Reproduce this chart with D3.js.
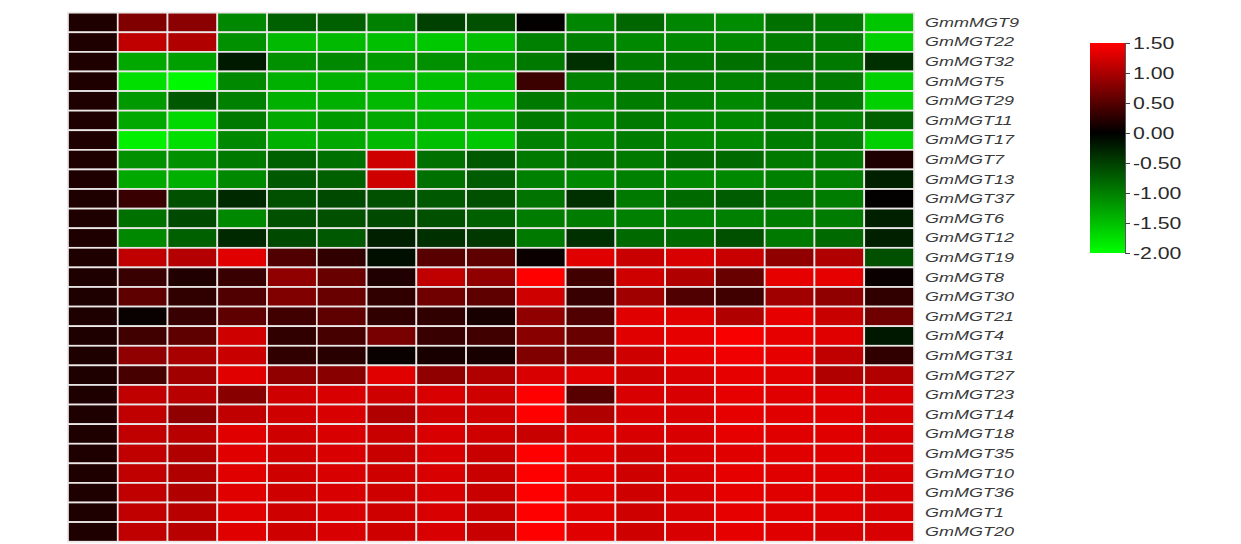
<!DOCTYPE html>
<html>
<head>
<meta charset="utf-8">
<script src="https://cdn.jsdelivr.net/npm/d3@7"></script>
<style>
  body { margin: 0; background: #fff; }
  svg { display: block; }
</style>
</head>
<body>
<script>
// row labels, top to bottom
var genes = ["GmmMGT9", "GmMGT22", "GmMGT32", "GmMGT5", "GmMGT29", "GmMGT11", "GmMGT17",
    "GmMGT7", "GmMGT13", "GmMGT37", "GmMGT6", "GmMGT12", "GmMGT19", "GmMGT8", "GmMGT30",
    "GmMGT21", "GmMGT4", "GmMGT31", "GmMGT27", "GmMGT23", "GmMGT14", "GmMGT18", "GmMGT35",
    "GmMGT10", "GmMGT36", "GmMGT1", "GmMGT20"];

// 17 samples (no names shown)
var samples = d3.range(17);

// expression values (one row per gene)
var values = [
    [0.18, 0.75, 0.82, -1.07, -0.75, -0.75, -1.0, -0.5, -0.63, 0.02, -1.05, -0.8, -1.05, -1.1, -0.88, -0.95, -1.55],
    [0.18, 1.13, 1.04, -1.13, -1.45, -1.45, -1.5, -1.57, -1.5, -1.0, -1.0, -1.07, -1.07, -1.07, -0.97, -0.97, -1.63],
    [0.18, -1.32, -1.25, -0.2, -1.13, -1.07, -1.2, -1.13, -1.2, -0.95, -0.38, -0.95, -0.95, -0.88, -0.88, -0.95, -0.38],
    [0.18, -1.75, -1.95, -1.07, -1.38, -1.38, -1.45, -1.5, -1.45, 0.35, -1.0, -0.95, -0.97, -1.0, -0.95, -0.95, -1.63],
    [0.18, -1.2, -0.7, -1.0, -1.38, -1.38, -1.45, -1.5, -1.5, -0.95, -1.07, -0.97, -1.0, -1.07, -0.95, -0.95, -1.63],
    [0.18, -1.32, -1.7, -0.95, -1.32, -1.2, -1.32, -1.38, -1.32, -0.95, -1.07, -0.95, -1.07, -1.07, -0.95, -1.0, -0.75],
    [0.18, -1.88, -1.75, -1.07, -1.38, -1.32, -1.45, -1.5, -1.57, -1.0, -1.07, -0.97, -1.07, -1.07, -0.97, -1.0, -1.63],
    [0.18, -1.13, -1.13, -0.95, -0.75, -0.88, 1.22, -0.88, -0.7, -0.95, -0.88, -0.95, -0.82, -0.82, -0.95, -0.95, 0.18],
    [0.18, -1.32, -1.38, -1.07, -0.7, -0.75, 1.22, -0.88, -0.72, -1.0, -1.07, -1.0, -1.07, -1.07, -1.0, -1.0, -0.25],
    [0.18, 0.33, -0.63, -0.32, -0.63, -0.57, -0.63, -0.7, -0.63, -0.9, -0.38, -0.95, -0.82, -0.72, -0.88, -0.97, 0.02],
    [0.18, -0.88, -0.57, -1.07, -0.63, -0.63, -0.57, -0.63, -0.75, -0.97, -0.97, -1.0, -1.0, -1.0, -0.97, -0.97, -0.25],
    [0.18, -1.07, -0.75, -0.32, -0.57, -0.7, -0.25, -0.38, -0.44, -0.95, -0.38, -0.82, -0.82, -0.63, -0.95, -0.82, -0.25],
    [0.18, 1.13, 1.06, 1.32, 0.47, 0.28, -0.12, 0.52, 0.56, 0.06, 1.32, 1.18, 1.27, 1.18, 0.85, 1.04, -0.63],
    [0.18, 0.33, 0.19, 0.33, 0.85, 0.61, 0.19, 1.13, 0.85, 1.5, 0.38, 1.22, 1.04, 0.61, 1.36, 1.36, 0.06],
    [0.18, 0.56, 0.28, 0.47, 0.75, 0.61, 0.28, 0.66, 0.56, 1.22, 0.33, 0.94, 0.47, 0.38, 0.94, 0.85, 0.28],
    [0.18, 0.05, 0.33, 0.56, 0.38, 0.56, 0.28, 0.28, 0.14, 0.85, 0.47, 1.32, 1.32, 1.04, 1.36, 1.18, 0.66],
    [0.18, 0.38, 0.56, 1.22, 0.28, 0.42, 0.71, 0.33, 0.38, 0.8, 0.61, 1.32, 1.36, 1.46, 1.36, 1.32, -0.19],
    [0.18, 0.85, 0.99, 1.18, 0.28, 0.24, 0.05, 0.14, 0.14, 0.75, 0.71, 1.22, 1.36, 1.41, 1.36, 1.13, 0.28],
    [0.18, 0.42, 0.94, 1.32, 0.85, 0.8, 1.32, 0.85, 1.04, 1.27, 1.32, 1.22, 1.27, 1.36, 1.32, 1.04, 1.04],
    [0.18, 1.13, 1.08, 0.8, 1.22, 1.27, 1.22, 1.27, 1.22, 1.5, 0.52, 1.27, 1.27, 1.36, 1.32, 1.32, 1.27],
    [0.18, 1.13, 0.85, 1.13, 1.22, 1.27, 1.04, 1.22, 1.22, 1.5, 1.04, 1.27, 1.27, 1.36, 1.32, 1.32, 1.27],
    [0.18, 1.13, 1.08, 1.32, 1.22, 1.27, 1.18, 1.27, 1.22, 1.18, 1.32, 1.27, 1.27, 1.36, 1.32, 1.32, 1.27],
    [0.18, 1.13, 1.04, 1.32, 1.22, 1.27, 1.18, 1.27, 1.18, 1.5, 1.32, 1.22, 1.27, 1.32, 1.32, 1.32, 1.27],
    [0.18, 1.13, 1.04, 1.32, 1.22, 1.27, 1.22, 1.27, 1.18, 1.5, 1.32, 1.22, 1.27, 1.36, 1.32, 1.32, 1.27],
    [0.18, 1.13, 1.04, 1.32, 1.22, 1.27, 1.22, 1.27, 1.18, 1.5, 1.32, 1.22, 1.27, 1.36, 1.32, 1.32, 1.27],
    [0.18, 1.13, 1.08, 1.32, 1.22, 1.27, 1.22, 1.27, 1.18, 1.5, 1.32, 1.22, 1.27, 1.36, 1.32, 1.32, 1.27],
    [0.18, 1.13, 1.08, 1.32, 1.22, 1.27, 1.22, 1.27, 1.18, 1.5, 1.32, 1.22, 1.27, 1.36, 1.32, 1.27, 1.27]
];

// colour key
var colorDomain = [-2, 0, 1.5];
var colorRange = ["#00ff00", "#000000", "#ff0000"];
var legendTicks = [1.5, 1.0, 0.5, 0.0, -0.5, -1.0, -1.5, -2.0];

window.onload = function() {
    var w = 1241, h = 544;

    var svg = d3.select("body")
        .append("svg")
        .attr("width", w)
        .attr("height", h);

    var color = d3.scaleLinear()
        .domain(colorDomain)
        .range(colorRange);

    // grid scales
    var x = d3.scaleBand().domain(samples).range([68, 914]);
    var y = d3.scaleBand().domain(genes).range([12.7, 541.7]);

    // flatten to cells
    var cells = [];
    genes.forEach(function(g, i) {
        samples.forEach(function(s, j) {
            cells.push({ gene: g, sample: s, v: values[i][j] });
        });
    });

    svg.append("g")
        .selectAll("rect")
        .data(cells)
        .enter()
        .append("rect")
        .attr("x", function(d) { return x(d.sample); })
        .attr("y", function(d) { return y(d.gene); })
        .attr("width", x.bandwidth())
        .attr("height", y.bandwidth())
        .style("fill", function(d) { return color(d.v); })
        .style("stroke", "#ece8e8")
        .style("stroke-width", 1.7);

    // gene names on the right (wide italic)
    svg.append("g")
        .selectAll("text")
        .data(genes)
        .enter()
        .append("text")
        .attr("transform", function(d) {
            return "translate(925," + (y(d) + y.bandwidth() / 2 + 4.4) + ") scale(1.44,1)";
        })
        .style("font-family", "'Liberation Sans', Arial, sans-serif")
        .style("font-style", "italic")
        .style("font-size", "12.5px")
        .style("fill", "#3a3a3a")
        .text(function(d) { return d; });

    // legend
    var legY = d3.scaleLinear().domain([-2, 1.5]).range([253, 43]);

    var grad = svg.append("defs")
        .append("linearGradient")
        .attr("id", "legGrad")
        .attr("x1", 0).attr("y1", 1)
        .attr("x2", 0).attr("y2", 0);

    grad.selectAll("stop")
        .data(colorDomain)
        .enter()
        .append("stop")
        .attr("offset", function(d) { return (d + 2) / 3.5; })
        .attr("stop-color", function(d) { return color(d); });

    svg.append("rect")
        .attr("x", 1090)
        .attr("y", legY(1.5))
        .attr("width", 35)
        .attr("height", legY(-2) - legY(1.5))
        .style("fill", "url(#legGrad)");

    var legAxis = svg.append("g")
        .attr("transform", "translate(1125,0)")
        .call(d3.axisRight(legY)
            .tickValues(legendTicks)
            .tickSize(5)
            .tickPadding(4)
            .tickFormat(function(d) { return d.toFixed(2); }));

    legAxis.select(".domain").style("stroke", "#555");
    legAxis.selectAll(".tick line").style("stroke", "#444");
    legAxis.selectAll(".tick text")
        .attr("x", 0)
        .attr("transform", "translate(8,0) scale(1.25,1)")
        .style("font-family", "'Liberation Sans', Arial, sans-serif")
        .style("font-size", "17px")
        .style("fill", "#2a2a2a");
};
</script>
</body>
</html>
